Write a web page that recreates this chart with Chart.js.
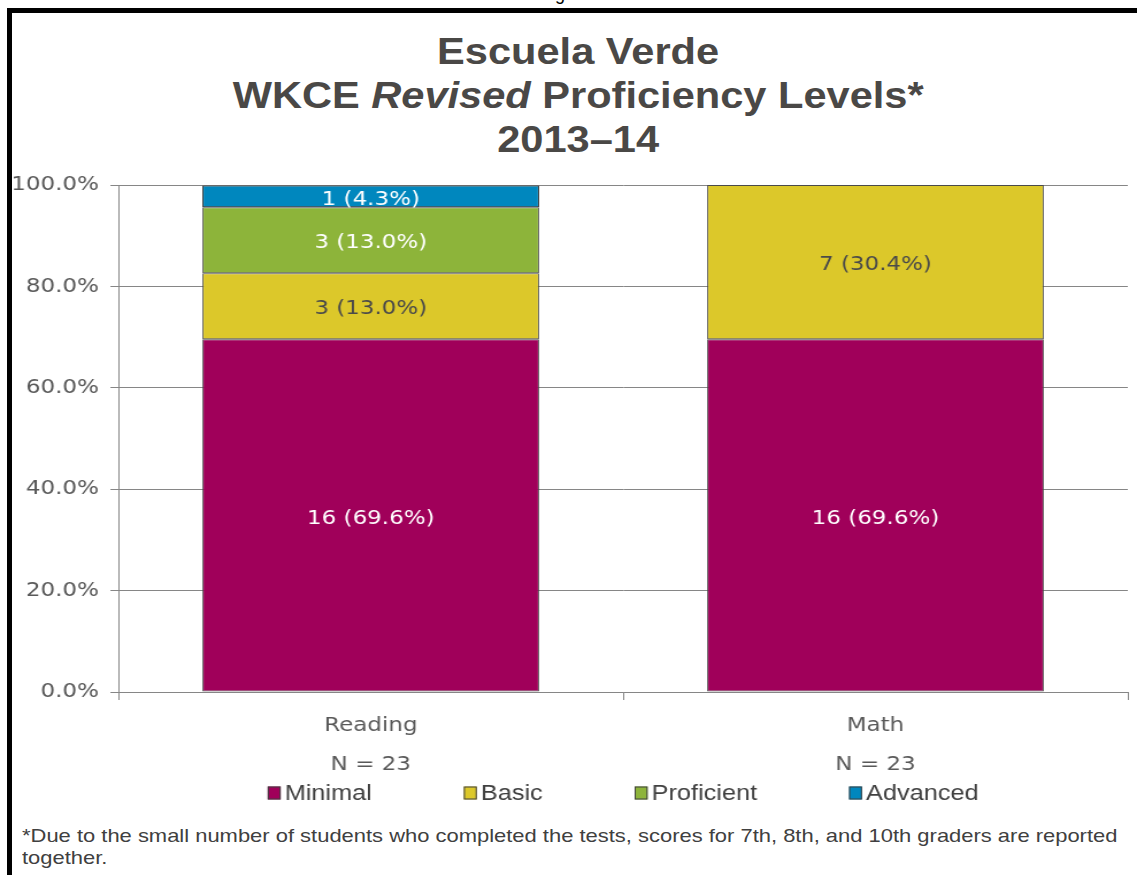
<!DOCTYPE html>
<html><head><meta charset="utf-8">
<script src="https://cdn.jsdelivr.net/npm/chart.js@4/dist/chart.umd.min.js"></script>
<style>
html,body{margin:0;padding:0;background:#fff;width:1137px;height:875px;overflow:hidden;position:relative}
#frame{position:absolute;left:7px;top:8px;width:1300px;height:1000px;border-left:5px solid #000;border-top:5px solid #000;box-sizing:border-box}
#fig{position:absolute;top:-16px;left:0;width:1156px;text-align:center;font:18px "Liberation Sans",Arial,sans-serif;color:#000}
#title{position:absolute;left:0;top:30px;width:1156px;text-align:center;font-family:"Liberation Sans",Arial,sans-serif;font-weight:bold;font-size:36px;line-height:44px;color:#4a4846}
#title .ln{display:block}
#title .ln span.s{display:inline-block;transform:scaleX(1.155);white-space:pre}
#chartwrap{position:absolute;left:0;top:160px;width:1137px;height:652px}
#c{width:1137px;height:652px;display:block}
#note{position:absolute;left:22px;top:825px;width:950px;transform:scaleX(1.155);transform-origin:0 0;font-family:"Liberation Sans",Arial,sans-serif;font-size:19px;line-height:22px;color:#404040}
</style></head>
<body>
<div id="fig">Figure 36</div>
<div id="frame"></div>
<div id="title">
  <div class="ln"><span class="s">Escuela Verde</span></div>
  <div class="ln"><span class="s">WKCE <i>Revised</i> Proficiency Levels*</span></div>
  <div class="ln"><span class="s">2013–14</span></div>
</div>
<div id="chartwrap"><canvas id="c" width="989" height="652" style="width:1137px;height:652px"></canvas></div>
<div id="note">*Due to the small number of students who completed the tests, scores for 7th, 8th, and 10th graders are reported together.</div>
<script>
const categories = [["Reading", "N = 23"], ["Math", "N = 23"]];
const levels = ["Minimal", "Basic", "Proficient", "Advanced"];
const minimalPct = [69.6, 69.6];
const basicPct = [13.0, 30.4];
const proficientPct = [13.0, 0];
const advancedPct = [4.3, 0];
const minimalN = [16, 16];
const basicN = [3, 7];
const proficientN = [3, 0];
const advancedN = [1, 0];
const yTickValues = [0, 20, 40, 60, 80, 100];

const colors = ["#A0005A", "#DCC82A", "#8DB43A", "#0087BE"];
const labelColors = ["#ffffff", "#4a4a4a", "#ffffff", "#ffffff"];
const pcts = [minimalPct, basicPct, proficientPct, advancedPct];
const counts = [minimalN, basicN, proficientN, advancedN];

const barLabels = {
  id: 'barLabels',
  afterDatasetsDraw(chart) {
    const ctx = chart.ctx;
    ctx.save();
    ctx.font = '20px "DejaVu Sans", sans-serif';
    ctx.textAlign = 'center';
    ctx.textBaseline = 'middle';
    chart.data.datasets.forEach((ds, i) => {
      const meta = chart.getDatasetMeta(i);
      meta.data.forEach((bar, j) => {
        const v = ds.data[j];
        if (!v) return;
        const p = bar.getProps(['x', 'y', 'base'], true);
        ctx.fillStyle = labelColors[i];
        ctx.fillText(counts[i][j] + ' (' + v.toFixed(1) + '%)', p.x, (p.y + p.base) / 2 + 3);
      });
    });
    ctx.restore();
  }
};

const customLegend = {
  id: 'customLegend',
  afterDraw(chart) {
    const ctx = chart.ctx;
    const ca = chart.chartArea;
    ctx.save();
    ctx.font = '22px "Liberation Sans", Arial, sans-serif';
    ctx.textBaseline = 'middle';
    ctx.textAlign = 'left';
    const boxW = 11.3, boxH = 13, gapText = 3.5, gapItem = 80;
    const items = chart.data.datasets.map(d => ({ t: d.label, c: d.backgroundColor, w: ctx.measureText(d.label).width }));
    const total = items.reduce((s, it) => s + boxW + gapText + it.w, 0) + gapItem * (items.length - 1);
    let x = (ca.left + ca.right) / 2 - total / 2;
    const cy = ca.bottom + 101;
    items.forEach(it => {
      ctx.fillStyle = it.c;
      ctx.fillRect(x, cy - boxH / 2, boxW, boxH);
      ctx.strokeStyle = '#404040';
      ctx.lineWidth = 1;
      ctx.strokeRect(x + 0.5, cy - boxH / 2 + 0.5, boxW - 1, boxH - 1);
      ctx.fillStyle = '#404040';
      ctx.fillText(it.t, x + boxW + gapText, cy + 1);
      x += boxW + gapText + it.w + gapItem;
    });
    ctx.restore();
  }
};

new Chart(document.getElementById('c'), {
  type: 'bar',
  data: {
    labels: categories,
    datasets: levels.map((lv, i) => ({
      label: lv,
      data: pcts[i],
      backgroundColor: colors[i],
      borderColor: i === 3 ? '#1a1a1a' : '#4a4a4a',
      borderWidth: c => (c.raw ? 1 : 0),
      borderSkipped: false,
      barPercentage: 0.667,
      categoryPercentage: 1.0
    }))
  },
  options: {
    responsive: false,
    animation: false,
    devicePixelRatio: 1,
    layout: { padding: { top: 25, right: 8, left: 0, bottom: 0 } },
    plugins: { legend: { display: false }, tooltip: { enabled: false } },
    scales: {
      x: {
        stacked: true,
        grid: { drawOnChartArea: false, drawTicks: true, tickLength: 8, color: '#868686', offset: true },
        border: { color: '#868686' },
        ticks: { font: { family: 'DejaVu Sans', size: 20, lineHeight: 1.95 }, color: '#595959', padding: 6 },
        afterFit(s) { s.height = 120; }
      },
      y: {
        stacked: true,
        min: 0, max: 100,
        afterBuildTicks(s) { s.ticks = yTickValues.map(v => ({ value: v })); },
        ticks: { callback: v => Number(v).toFixed(1) + '%', font: { family: 'DejaVu Sans', size: 20 }, color: '#595959', padding: 10 },
        grid: { color: '#868686', tickLength: 7 },
        border: { color: '#868686' },
        afterFit(s) { s.width = 103; }
      }
    }
  },
  plugins: [barLabels, customLegend]
});
</script>
</body></html>
